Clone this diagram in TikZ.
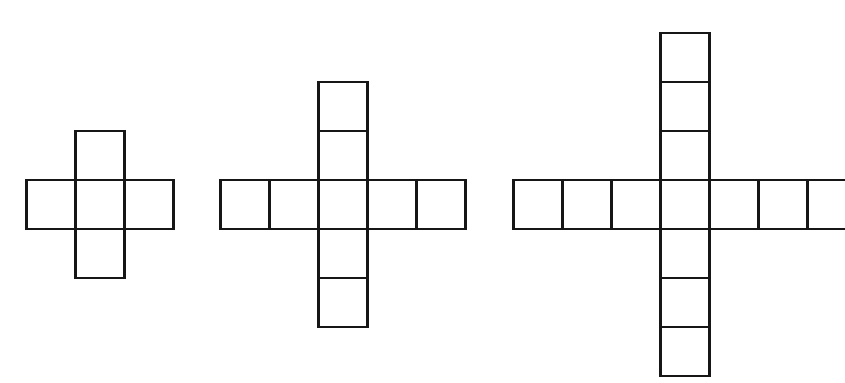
\documentclass[tikz,border=0pt]{standalone}
\usepackage{xcolor}
\usetikzlibrary{positioning}
\definecolor{inkdark}{RGB}{22,22,22}

\begin{document}
\begin{tikzpicture}[
  node distance=0pt,
  cell/.style={draw=inkdark,line width=1.5pt,minimum size=0.98cm,inner sep=0pt,outer sep=0pt}
]
\useasboundingbox (0,0) rectangle (16.9,7.64);
\clip (0,0) rectangle (16.9,7.64);
% small cross
\node[cell] (a0) at (2.0,3.55) {};
\node[cell,above=of a0] (aN1) {};
\node[cell,below=of a0] (aS1) {};
\node[cell,left=of a0] (aW1) {};
\node[cell,right=of a0] (aE1) {};
% middle cross
\node[cell] (b0) at (6.86,3.55) {};
\node[cell,above=of b0] (bN1) {};
\node[cell,above=of bN1] (bN2) {};
\node[cell,below=of b0] (bS1) {};
\node[cell,below=of bS1] (bS2) {};
\node[cell,left=of b0] (bW1) {};
\node[cell,left=of bW1] (bW2) {};
\node[cell,right=of b0] (bE1) {};
\node[cell,right=of bE1] (bE2) {};
% large cross
\node[cell] (c0) at (13.7,3.55) {};
\node[cell,above=of c0] (cN1) {};
\node[cell,above=of cN1] (cN2) {};
\node[cell,above=of cN2] (cN3) {};
\node[cell,below=of c0] (cS1) {};
\node[cell,below=of cS1] (cS2) {};
\node[cell,below=of cS2] (cS3) {};
\node[cell,left=of c0] (cW1) {};
\node[cell,left=of cW1] (cW2) {};
\node[cell,left=of cW2] (cW3) {};
\node[cell,right=of c0] (cE1) {};
\node[cell,right=of cE1] (cE2) {};
\node[cell,right=of cE2] (cE3) {};
\end{tikzpicture}
\end{document}
